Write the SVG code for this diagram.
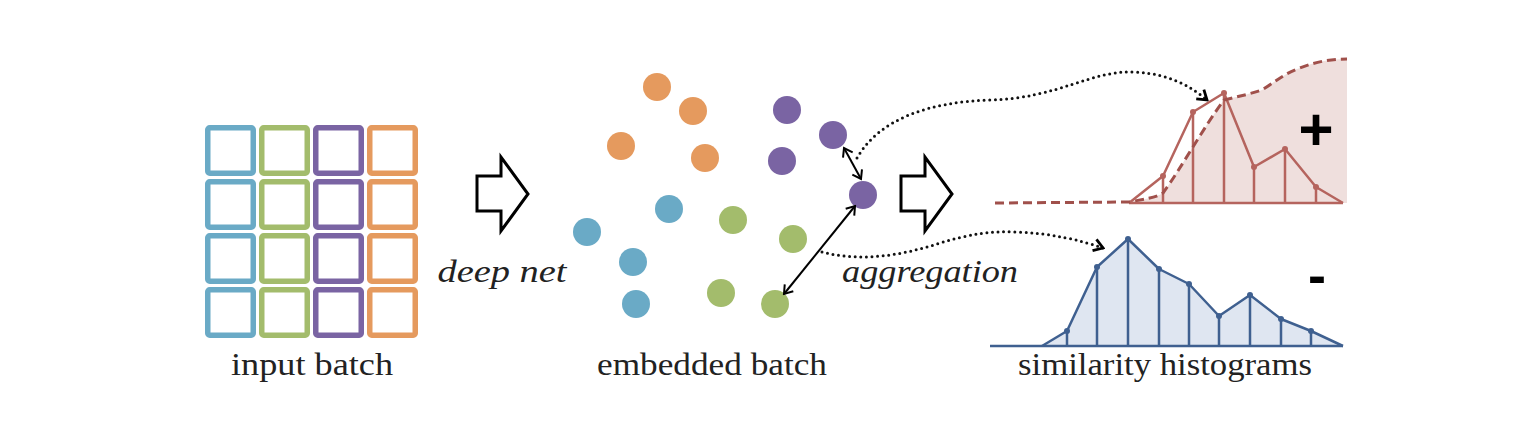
<svg xmlns="http://www.w3.org/2000/svg" width="1530" height="434" viewBox="0 0 1530 434">
<style>
.cell{fill:#ffffff;stroke-width:5.5}
.cb{stroke:#6aaac6}.cg{stroke:#a3bc6c}.cp{stroke:#7a64a3}.co{stroke:#e59a5e}
.db{fill:#6aaac6}.dg{fill:#a3bc6c}.dp{fill:#7a64a3}.do{fill:#e59a5e}
.blk{fill:#ffffff;stroke:#000000;stroke-width:3;stroke-linejoin:miter}
.lbl{font-size:31px;fill:#222222;text-anchor:middle}
.it{font-style:italic}
.dbl{fill:none;stroke:#000000;stroke-width:2}
.dot{fill:none;stroke:#111111;stroke-width:3;stroke-dasharray:0 5.6;stroke-linecap:round}
.rs{fill:none;stroke:#b5645e;stroke-width:2.5;stroke-linejoin:round}
.rd{fill:none;stroke:#a0504b;stroke-width:3;stroke-dasharray:9 5}
.bs{fill:none;stroke:#3f6090;stroke-width:2.5;stroke-linejoin:round}
.sign{font-weight:bold;fill:#000000;text-anchor:middle}
</style>
<defs>
<marker id="chev" viewBox="-10 -7 12 14" refX="0" refY="0" markerWidth="12" markerHeight="14" markerUnits="userSpaceOnUse" orient="auto-start-reverse">
<path d="M-8,-5.5 L0,0 L-8,5.5" fill="none" stroke="#000000" stroke-width="2"/>
</marker>
<marker id="chevd" viewBox="-12 -8 14 16" refX="0" refY="0" markerWidth="14" markerHeight="16" markerUnits="userSpaceOnUse" orient="auto">
<path d="M-9,-6 L0,0 L-9,6" fill="none" stroke="#000000" stroke-width="2.8"/>
</marker>
</defs>
<rect width="1530" height="434" fill="#ffffff"/>

<g id="input-batch">
<rect class="cell cb" x="207.75" y="127.75" width="45.5" height="45.5" rx="2"/>
<rect class="cell cb" x="207.75" y="181.75" width="45.5" height="45.5" rx="2"/>
<rect class="cell cb" x="207.75" y="235.75" width="45.5" height="45.5" rx="2"/>
<rect class="cell cb" x="207.75" y="289.75" width="45.5" height="45.5" rx="2"/>
<rect class="cell cg" x="261.75" y="127.75" width="45.5" height="45.5" rx="2"/>
<rect class="cell cg" x="261.75" y="181.75" width="45.5" height="45.5" rx="2"/>
<rect class="cell cg" x="261.75" y="235.75" width="45.5" height="45.5" rx="2"/>
<rect class="cell cg" x="261.75" y="289.75" width="45.5" height="45.5" rx="2"/>
<rect class="cell cp" x="315.75" y="127.75" width="45.5" height="45.5" rx="2"/>
<rect class="cell cp" x="315.75" y="181.75" width="45.5" height="45.5" rx="2"/>
<rect class="cell cp" x="315.75" y="235.75" width="45.5" height="45.5" rx="2"/>
<rect class="cell cp" x="315.75" y="289.75" width="45.5" height="45.5" rx="2"/>
<rect class="cell co" x="369.75" y="127.75" width="45.5" height="45.5" rx="2"/>
<rect class="cell co" x="369.75" y="181.75" width="45.5" height="45.5" rx="2"/>
<rect class="cell co" x="369.75" y="235.75" width="45.5" height="45.5" rx="2"/>
<rect class="cell co" x="369.75" y="289.75" width="45.5" height="45.5" rx="2"/>
<text class="lbl" font-family="'Liberation Serif', 'DejaVu Serif', serif" x="312" y="375" textLength="162" lengthAdjust="spacingAndGlyphs">input batch</text>
</g>

<g id="deep-net">
<path class="blk" d="M477,176 L501,176 L501,157 L528,194 L501,231 L501,211 L477,211 Z"/>
<text class="lbl it" font-family="'Liberation Serif', 'DejaVu Serif', serif" x="502" y="282" textLength="129" lengthAdjust="spacingAndGlyphs">deep net</text>
</g>

<g id="embedded-batch">
<circle class="do" cx="657" cy="87" r="14"/>
<circle class="do" cx="693" cy="111" r="14"/>
<circle class="do" cx="621" cy="146" r="14"/>
<circle class="do" cx="705" cy="158" r="14"/>
<circle class="dp" cx="787" cy="110" r="14"/>
<circle class="dp" cx="833" cy="135" r="14"/>
<circle class="dp" cx="782" cy="161" r="14"/>
<circle class="dp" cx="863" cy="195" r="14"/>
<circle class="db" cx="669" cy="209" r="14"/>
<circle class="db" cx="587" cy="232" r="14"/>
<circle class="db" cx="633" cy="262" r="14"/>
<circle class="db" cx="636" cy="304" r="14"/>
<circle class="dg" cx="733" cy="220" r="14"/>
<circle class="dg" cx="793" cy="239" r="14"/>
<circle class="dg" cx="721" cy="293" r="14"/>
<circle class="dg" cx="775" cy="304" r="14"/>
<text class="lbl" font-family="'Liberation Serif', 'DejaVu Serif', serif" x="712" y="375" textLength="230" lengthAdjust="spacingAndGlyphs">embedded batch</text>
</g>

<g id="aggregation">
<path class="blk" d="M901,176 L925,176 L925,157 L952,194 L925,231 L925,211 L901,211 Z"/>
<text class="lbl it" font-family="'Liberation Serif', 'DejaVu Serif', serif" x="930" y="282" textLength="176" lengthAdjust="spacingAndGlyphs">aggregation</text>
</g>

<g id="positive-histogram">
<path d="M1129,202 C1145,199 1155,198 1163,193 C1180,170 1205,125 1224,100 C1240,96 1250,94 1262,90 C1275,82 1285,73 1300,68 C1315,62 1330,59 1347,59 L1347,203 L1129,203 Z" fill="#efdfdd"/>
<line x1="1129" y1="203" x2="1343" y2="203" stroke="#b5645e" stroke-width="2.5"/>
<path class="rs" d="M1163,203 V176 M1193,203 V112 M1224,203 V93 M1254,203 V167 M1285,203 V149 M1316,203 V187"/>
<path class="rs" d="M1129,203 L1163,176 L1193,112 L1224,93 L1254,167 L1285,149 L1316,187 L1343,203"/>
<g fill="#b5645e">
<circle cx="1163" cy="176" r="3"/><circle cx="1193" cy="112" r="3"/><circle cx="1224" cy="93" r="3"/>
<circle cx="1254" cy="167" r="3"/><circle cx="1285" cy="149" r="3"/><circle cx="1316" cy="187" r="3"/>
</g>
<path class="rd" d="M995,203 L1129,202 C1145,199 1155,198 1163,193 C1180,170 1205,125 1224,100 C1240,96 1250,94 1262,90 C1275,82 1285,73 1300,68 C1315,62 1330,59 1347,59"/>
<text class="sign" font-family="'Liberation Sans', Arial, sans-serif" x="1316" y="150" font-size="60">+</text>
</g>

<g id="negative-histogram">
<path d="M1042,346 L1067,331 L1097,267 L1128,239 L1159,269 L1189,284 L1219,316 L1250,295 L1281,319 L1311,331 L1343,346 Z" fill="#dfe6f1"/>
<line x1="990" y1="346" x2="1343" y2="346" stroke="#3f6090" stroke-width="2.5"/>
<path class="bs" d="M1067,346 V331 M1097,346 V267 M1128,346 V239 M1159,346 V269 M1189,346 V284 M1219,346 V316 M1250,346 V295 M1281,346 V319 M1311,346 V331"/>
<path class="bs" d="M1042,346 L1067,331 L1097,267 L1128,239 L1159,269 L1189,284 L1219,316 L1250,295 L1281,319 L1311,331 L1343,346"/>
<g fill="#3f6090">
<circle cx="1067" cy="331" r="3"/><circle cx="1097" cy="267" r="3"/><circle cx="1128" cy="239" r="3"/>
<circle cx="1159" cy="269" r="3"/><circle cx="1189" cy="284" r="3"/><circle cx="1219" cy="316" r="3"/>
<circle cx="1250" cy="295" r="3"/><circle cx="1281" cy="319" r="3"/><circle cx="1311" cy="331" r="3"/>
</g>
<text class="sign" font-family="'Liberation Sans', Arial, sans-serif" x="1317" y="294" font-size="54">-</text>
<text class="lbl" font-family="'Liberation Serif', 'DejaVu Serif', serif" x="1165" y="375" textLength="294" lengthAdjust="spacingAndGlyphs">similarity histograms</text>
</g>

<g id="connectors">
<line class="dbl" x1="844" y1="148" x2="861" y2="179" marker-start="url(#chev)" marker-end="url(#chev)"/>
<line class="dbl" x1="855" y1="206" x2="784" y2="294" marker-start="url(#chev)" marker-end="url(#chev)"/>
<path class="dot" d="M857,158 C880,118 930,102 990,100 C1060,98 1090,70 1135,72 C1170,74 1190,86 1207,100" marker-end="url(#chevd)"/>
<path class="dot" d="M822,252 C860,262 900,256 940,243 C970,234 990,231 1015,232 C1050,233 1080,240 1103,248" marker-end="url(#chevd)"/>
</g>
</svg>
